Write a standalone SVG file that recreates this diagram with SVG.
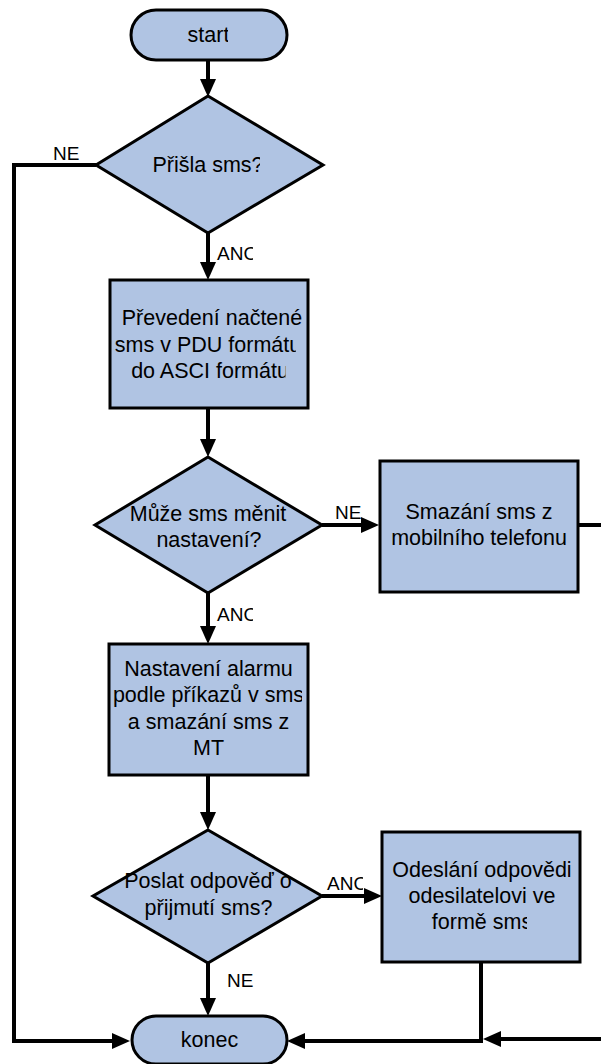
<svg xmlns="http://www.w3.org/2000/svg" width="601" height="1064" viewBox="0 0 601 1064">
  <style>
    .shape { fill: #b0c4e3; stroke: #000; stroke-width: 3; }
    .wire { fill: none; stroke: #000; stroke-width: 4; }
    .txt { font-family: "Liberation Sans", Arial, sans-serif; font-size: 21.5px; fill: #000; text-anchor: middle; }
    .lbl { font-family: "Liberation Sans", Arial, sans-serif; font-size: 19px; fill: #000; }
  </style>
  <defs>
    <marker id="head" markerUnits="userSpaceOnUse" markerWidth="18" markerHeight="16" refX="6" refY="8" orient="auto" overflow="visible">
      <path d="M0,0 L18,8 L0,16 z" fill="#000"/>
    </marker>
    <!-- text frames cut off the last glyph of some lines -->
    <clipPath id="cStart"><rect x="140" y="20" width="88" height="30"/></clipPath>
    <clipPath id="cQ1"><rect x="140" y="150" width="120" height="30"/></clipPath>
    <clipPath id="cR1a"><rect x="112" y="334" width="184" height="24"/></clipPath>
    <clipPath id="cR1b"><rect x="112" y="360" width="173.5" height="26"/></clipPath>
    <clipPath id="cAno1"><rect x="210" y="240" width="43" height="30"/></clipPath>
    <clipPath id="cAno2"><rect x="210" y="600" width="43" height="30"/></clipPath>
    <clipPath id="cAno3"><rect x="320" y="870" width="43" height="30"/></clipPath>
    <clipPath id="cR3"><rect x="100" y="650" width="202" height="120"/></clipPath>
    <clipPath id="cR4"><rect x="385" y="905" width="142" height="40"/></clipPath>
  </defs>

  <g id="connectors">
    <path class="wire" d="M208,60 V85" marker-end="url(#head)"/>
    <path class="wire" d="M208,233 V268" marker-end="url(#head)"/>
    <path class="wire" d="M208,408 V445" marker-end="url(#head)"/>
    <path class="wire" d="M208,593 V632" marker-end="url(#head)"/>
    <path class="wire" d="M208,775 V818" marker-end="url(#head)"/>
    <path class="wire" d="M208,963 V1004" marker-end="url(#head)"/>
    <path class="wire" d="M96,165 H14 V1041 H118" marker-end="url(#head)"/>
    <path class="wire" d="M322,525 H367" marker-end="url(#head)"/>
    <path class="wire" d="M322,896 H370" marker-end="url(#head)"/>
    <path class="wire" d="M578,525 H612 V1039 H495" marker-end="url(#head)"/>
    <path class="wire" d="M481,962 V1041 H299" marker-end="url(#head)"/>
    <text class="lbl" x="53" y="160">NE</text>
    <text class="lbl" x="217" y="260" clip-path="url(#cAno1)">ANO</text>
    <text class="lbl" x="335" y="519">NE</text>
    <text class="lbl" x="217" y="621" clip-path="url(#cAno2)">ANO</text>
    <text class="lbl" x="327" y="890" clip-path="url(#cAno3)">ANO</text>
    <text class="lbl" x="227" y="987">NE</text>
  </g>

  <g id="start">
    <rect class="shape" x="131" y="10" width="156" height="50" rx="25"/>
    <text class="txt" x="208.5" y="42" clip-path="url(#cStart)">start</text>
  </g>

  <g id="prisla-sms">
    <polygon class="shape" points="208,96 323,165 208,233 96,165"/>
    <text class="txt" x="208" y="172" clip-path="url(#cQ1)">Přišla sms?</text>
  </g>

  <g id="prevedeni">
    <rect class="shape" x="110" y="280" width="198" height="128"/>
    <text class="txt" x="212" y="325">Převedení načtené</text>
    <text class="txt" x="208" y="352" clip-path="url(#cR1a)">sms v PDU formátu</text>
    <text class="txt" x="210" y="378" clip-path="url(#cR1b)">do ASCI formátu</text>
  </g>

  <g id="muze-menit">
    <polygon class="shape" points="208,457 322,525 208,593 95,525"/>
    <text class="txt" x="208" y="521">Může sms měnit</text>
    <text class="txt" x="209" y="547">nastavení?</text>
  </g>

  <g id="smazani">
    <rect class="shape" x="380" y="461" width="198" height="131"/>
    <text class="txt" x="479" y="519">Smazání sms z</text>
    <text class="txt" x="479" y="545">mobilního telefonu</text>
  </g>

  <g id="nastaveni-alarmu">
    <rect class="shape" x="109" y="644" width="199" height="131"/>
    <g clip-path="url(#cR3)">
      <text class="txt" x="208.5" y="676">Nastavení alarmu</text>
      <text class="txt" x="208.5" y="702">podle příkazů v sms</text>
      <text class="txt" x="208.5" y="729">a smazání sms z</text>
      <text class="txt" x="208.5" y="755">MT</text>
    </g>
  </g>

  <g id="poslat-odpoved">
    <polygon class="shape" points="208,830 322,896 208,963 93,896"/>
    <text class="txt" x="208" y="888">Poslat odpověď o</text>
    <text class="txt" x="208.5" y="915">přijmutí sms?</text>
  </g>

  <g id="odeslani">
    <rect class="shape" x="382" y="832" width="198" height="130"/>
    <text class="txt" x="482" y="877">Odeslání odpovědi</text>
    <text class="txt" x="482" y="903">odesilatelovi ve</text>
    <text class="txt" x="482" y="929" clip-path="url(#cR4)">formě sms</text>
  </g>

  <g id="konec">
    <rect class="shape" x="132" y="1016" width="155" height="48" rx="24"/>
    <text class="txt" x="209.5" y="1047">konec</text>
  </g>
</svg>
